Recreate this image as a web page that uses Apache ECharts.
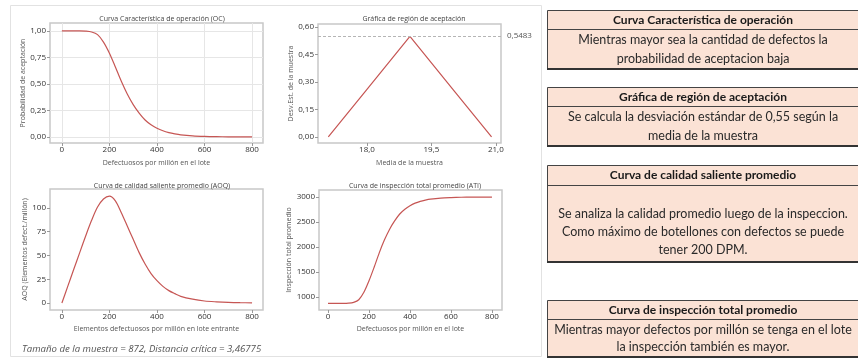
<!DOCTYPE html>
<html>
<head>
<meta charset="utf-8">
<script src="https://cdn.jsdelivr.net/npm/echarts@6/dist/echarts.min.js"></script>
<style>
html, body {margin:0; padding:0; background:#fff;}
#main {width:858px; height:358px;}
</style>
</head>
<body>
<div id="main"></div>
<script>
// defectuosos por millon (eje x de OC, AOQ y ATI)
var dpm = [0,25,50,75,100,125,150,175,200,225,250,275,300,325,350,375,400,425,450,475,500,550,600,650,700,750,800];
var probAcept = [1.000,1.000,1.000,1.000,0.998,0.990,0.965,0.895,0.790,0.660,0.525,0.405,0.305,0.225,0.160,0.115,0.082,0.058,0.041,0.029,0.020,0.010,0.005,0.0025,0.0012,0.0006,0.0003];
var aoq = [0,17.7,35.5,53,70.5,87,101,109.5,112.5,107.5,95,81,67,53,41,31,23.5,17.5,13,9.8,7,4,2.1,1.2,0.6,0.3,0.2];
var ati = [872,872,872,872,876,893,946,1095,1325,1595,1883,2138,2351,2521,2660,2755,2826,2877,2913,2938,2957,2979,2989,2995,2997,2999,2999];
// region de aceptacion
var mediaMuestra = [17.1, 18.0, 19.0, 20.0, 20.9];
var desvMuestra = [0, 0.26, 0.5483, 0.26, 0];
var desvMax = 0.5483;
// ticks
var ticksDpm = [0,200,400,600,800];
var ticksProb = [0,0.25,0.5,0.75,1];
var ticksMedia = [18.0,19.5,21.0];
var ticksDesv = [0,0.15,0.30,0.45,0.60];
var ticksAoq = [0,25,50,75,100];
var ticksAti = [1000,1500,2000,2500,3000];

var titulos = ['Curva Característica de operación (OC)', 'Gráfica de región de aceptación',
               'Curva de calidad saliente promedio (AOQ)', 'Curva de inspección total promedio (ATI)'];
var cajas = [
    {cab: 'Curva Característica de operación', txt: ['Mientras mayor sea la cantidad de defectos la', 'probabilidad de aceptacion baja'], y: 10, sep: 29, fin: 69, lineas: [40, 59]},
    {cab: 'Gráfica de región de aceptación', txt: ['Se calcula la desviación estándar de 0,55 según la', 'media de la muestra'], y: 87, sep: 106, fin: 146, lineas: [117, 136]},
    {cab: 'Curva de calidad saliente promedio', txt: ['Se analiza la calidad promedio luego de la inspeccion.', 'Como máximo de botellones con defectos se puede', 'tener 200 DPM.'], y: 165, sep: 185, fin: 262, lineas: [214, 232, 250]},
    {cab: 'Curva de inspección total promedio', txt: ['Mientras mayor defectos por millón se tenga en el lote', 'la inspección también es mayor.'], y: 300, sep: 319, fin: 357, lineas: [330, 347]}
];

var rojo = '#c65654';
var fuente = 'Open Sans';

function coma(dec) {
    return function (v) { return dec ? v.toFixed(dec).replace('.', ',') : String(v); };
}

function pares(xs, ys) {
    var out = [];
    for (var i = 0; i < xs.length; i++) out.push([xs[i], ys[i]]);
    return out;
}

function eje(grid, min, max, valores, fmt, nombre, gap, rejilla, vertical) {
    return {
        type: 'value', gridIndex: grid, min: min, max: max,
        name: nombre, nameLocation: 'middle', nameGap: gap,
        nameTextStyle: {fontSize: 7, color: '#555', fontFamily: fuente},
        axisLine: {show: false, onZero: false},
        axisTick: {show: true, length: 3, customValues: valores, lineStyle: {color: '#999'}},
        axisLabel: {customValues: valores, formatter: fmt, fontSize: 8, color: '#333', fontFamily: fuente, margin: vertical ? 4 : 3},
        splitLine: {show: rejilla, lineStyle: {color: '#e6e6e6', width: 1}}
    };
}

function titulo(txt, cx, y) {
    return {text: txt, left: cx, top: y, textAlign: 'center',
            textStyle: {fontSize: 7, fontWeight: 'normal', color: '#444', fontFamily: fuente}};
}

function serie(i, data, extra) {
    var s = {type: 'line', xAxisIndex: i, yAxisIndex: i, data: data, showSymbol: false, smooth: 0.3,
             lineStyle: {color: rojo, width: 1.2}, animation: false};
    for (var k in extra) s[k] = extra[k];
    return s;
}

var graficos = [
    {type: 'rect', shape: {x: 10.5, y: 5.5, width: 531, height: 351}, style: {fill: 'none', stroke: '#e2e2e2', lineWidth: 1}},
    {type: 'text', x: 22, y: 349, style: {text: 'Tamaño de la muestra = 872, Distancia crítica = 3,46775', font: 'italic 9.6px "' + fuente + '"', fill: '#555', verticalAlign: 'middle'}}
];
cajas.forEach(function (c) {
    graficos.push({type: 'rect', shape: {x: 547.5, y: c.y + 0.5, width: 320, height: c.fin - c.y}, style: {fill: '#fbe2d5', stroke: '#444', lineWidth: 1}});
    graficos.push({type: 'line', shape: {x1: 547, y1: c.sep + 0.5, x2: 858, y2: c.sep + 0.5}, style: {stroke: '#444', lineWidth: 1}});
    graficos.push({type: 'line', shape: {x1: 547, y1: c.fin, x2: 858, y2: c.fin}, style: {stroke: '#333', lineWidth: 2}});
    graficos.push({type: 'text', x: 703, y: (c.y + c.sep) / 2 + 0.5, style: {text: c.cab, font: 'bold 12px Lato', fill: '#1a1a1a', align: 'center', verticalAlign: 'middle'}});
    c.txt.forEach(function (t, j) {
        graficos.push({type: 'text', x: 703, y: c.lineas[j], style: {text: t, font: '12.5px Lato', fill: '#2a2a2a', align: 'center', verticalAlign: 'middle'}});
    });
});

var borde = {show: true, borderColor: '#c8c8c8', borderWidth: 1.5, backgroundColor: '#fff'};
var option = {
    animation: false,
    title: [titulo(titulos[0], 157, 10), titulo(titulos[1], 409, 10), titulo(titulos[2], 157, 177), titulo(titulos[3], 410, 177)],
    grid: [
        Object.assign({left: 50, top: 23, width: 213, height: 120}, borde),
        Object.assign({left: 318, top: 24, width: 183, height: 119}, borde),
        Object.assign({left: 50, top: 189, width: 213, height: 121}, borde),
        Object.assign({left: 319, top: 190, width: 183, height: 120}, borde)
    ],
    xAxis: [
        eje(0, -50, 846, ticksDpm, coma(0), 'Defectuosos por millón en el lote', 16, true),
        eje(1, 16.86, 21.12, ticksMedia, coma(1), 'Media de la muestra', 16, false),
        eje(2, -50, 846, ticksDpm, coma(0), 'Elementos defectuosos por millón en lote entrante', 15, false),
        eje(3, -44, 849, ticksDpm, coma(0), 'Defectuosos por millón en el lote', 15, false)
    ],
    yAxis: [
        eje(0, -0.057, 1.075, ticksProb, coma(2), 'Probabilidad de aceptación', 22, true, true),
        eje(1, -0.033, 0.616, ticksDesv, coma(2), 'Desv.Est. de la muestra', 20, false, true),
        eje(2, -7.4, 120, ticksAoq, coma(0), 'AOQ (Elementos defect./millón)', 18, false, true),
        eje(3, 740, 3140, ticksAti, coma(0), 'Inspección total promedio', 25, false, true)
    ],
    series: [
        serie(0, pares(dpm, probAcept), {}),
        serie(1, pares(mediaMuestra, desvMuestra), {smooth: false, markLine: {
            symbol: 'none', silent: true, animation: false,
            lineStyle: {color: '#b5b5b5', type: [3, 2], width: 1},
            label: {position: 'end', distance: 6, formatter: function () { return coma(4)(desvMax); }, fontSize: 8, color: '#555', fontFamily: fuente},
            data: [{yAxis: desvMax}]}}),
        serie(2, pares(dpm, aoq), {}),
        serie(3, pares(dpm, ati), {})
    ],
    graphic: graficos
};

var chart = echarts.init(document.getElementById('main'));
chart.setOption(option);
</script>
</body>
</html>
